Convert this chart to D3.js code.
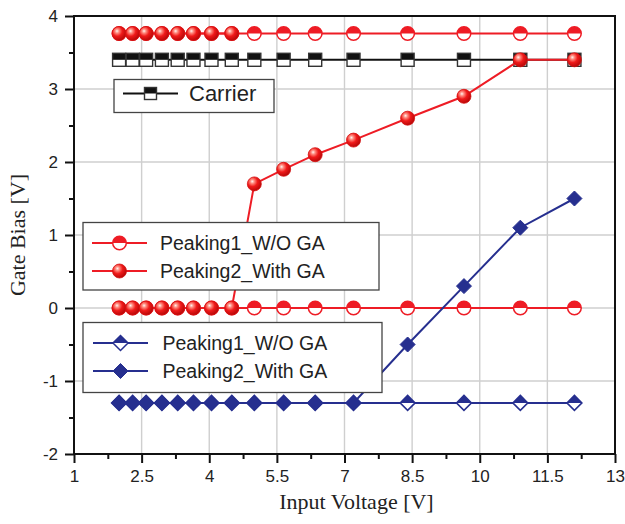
<!DOCTYPE html>
<html>
<head>
<meta charset="utf-8">
<script src="https://cdn.jsdelivr.net/npm/d3@7"></script>
<style>
  html, body { margin: 0; padding: 0; background: #fff; }
  svg { display: block; }
</style>
</head>
<body>
<svg id="chart" width="625" height="524"></svg>
<script>
// Input voltage sweep points [V]
const inputVoltage = [2.0, 2.3, 2.6, 2.95, 3.3, 3.65, 4.05, 4.5, 5.0, 5.65, 6.35, 7.2, 8.4, 9.65, 10.9, 12.1];

// Gate bias [V]
const carrier          = [3.4, 3.4, 3.4, 3.4, 3.4, 3.4, 3.4, 3.4, 3.4, 3.4, 3.4, 3.4, 3.4, 3.4, 3.4, 3.4];
const redUpperWoGA     = [3.76, 3.76, 3.76, 3.76, 3.76, 3.76, 3.76, 3.76, 3.76, 3.76, 3.76, 3.76, 3.76, 3.76, 3.76, 3.76];
const redUpperWithGA   = [3.76, 3.76, 3.76, 3.76, 3.76, 3.76, 3.76, 3.76];
const peaking1WoGARed  = [0, 0, 0, 0, 0, 0, 0, 0, 0, 0, 0, 0, 0, 0, 0, 0];
const peaking2WithGARed = [0, 0, 0, 0, 0, 0, 0, 0, 1.7, 1.9, 2.1, 2.3, 2.6, 2.9, 3.4, 3.4];
const peaking1WoGABlue = [-1.3, -1.3, -1.3, -1.3, -1.3, -1.3, -1.3, -1.3, -1.3, -1.3, -1.3, -1.3, -1.3, -1.3, -1.3, -1.3];
const peaking2WithGABlue = [-1.3, -1.3, -1.3, -1.3, -1.3, -1.3, -1.3, -1.3, -1.3, -1.3, -1.3, -1.3, -0.5, 0.3, 1.1, 1.5];

// Axis ticks
const xTicks = [1, 2.5, 4, 5.5, 7, 8.5, 10, 11.5, 13];
const yTicks = [-2, -1, 0, 1, 2, 3, 4];

// Legend labels
const carrierLabel = "Carrier";
const redLegendLabels = ["Peaking1_W/O GA", "Peaking2_With GA"];
const blueLegendLabels = ["Peaking1_W/O GA", "Peaking2_With GA"];

const RED = "#ee1c25";
const BLUE = "#262f8f";
const BLACK = "#111";
const SANS = "'Liberation Sans', Arial, sans-serif";
const SERIF = "'Liberation Serif', 'Times New Roman', serif";

const svg = d3.select("#chart");
const plotL = 74, plotR = 615, plotT = 16, plotB = 454;

const x = d3.scaleLinear().domain([1, 13]).range([plotL, plotR]);
const y = d3.scaleLinear().domain([-2, 4]).range([plotB, plotT]);

// Sphere shading for the filled circles
const defs = svg.append("defs");
const grad = defs.append("radialGradient")
  .attr("id", "sphere").attr("cx", "38%").attr("cy", "35%").attr("r", "65%")
  .attr("fx", "35%").attr("fy", "32%");
grad.append("stop").attr("offset", "0%").attr("stop-color", "#fff4f0");
grad.append("stop").attr("offset", "22%").attr("stop-color", "#ff8c80");
grad.append("stop").attr("offset", "55%").attr("stop-color", "#f01a1a");
grad.append("stop").attr("offset", "100%").attr("stop-color", "#b80808");

// Grid
const grid = svg.append("g");
grid.selectAll("line.gx").data(xTicks).join("line")
  .attr("x1", d => x(d)).attr("x2", d => x(d))
  .attr("y1", plotT).attr("y2", plotB)
  .attr("stroke", "#cfcfcf").attr("stroke-width", 1.4);
grid.selectAll("line.gy").data(yTicks).join("line")
  .attr("x1", plotL).attr("x2", plotR)
  .attr("y1", d => y(d)).attr("y2", d => y(d))
  .attr("stroke", "#cfcfcf").attr("stroke-width", 1.4);

// Axes
const xMinor = d3.pairs(xTicks).map(([a, b]) => (a + b) / 2);
const yMinor = d3.pairs(yTicks).map(([a, b]) => (a + b) / 2);

const xAxis = svg.append("g").attr("transform", `translate(0,${plotB})`)
  .call(d3.axisBottom(x).tickValues(xTicks).tickSize(9).tickPadding(7).tickFormat(d => String(d)));
const xAxisMinor = svg.append("g").attr("transform", `translate(0,${plotB})`)
  .call(d3.axisBottom(x).tickValues(xMinor).tickSize(5).tickFormat(""));
const yAxis = svg.append("g").attr("transform", `translate(${plotL},0)`)
  .call(d3.axisLeft(y).tickValues(yTicks).tickSize(9).tickPadding(7).tickFormat(d => String(d)));
const yAxisMinor = svg.append("g").attr("transform", `translate(${plotL},0)`)
  .call(d3.axisLeft(y).tickValues(yMinor).tickSize(5).tickFormat(""));

[xAxis, xAxisMinor, yAxis, yAxisMinor].forEach(g => {
  g.select(".domain").remove();
  g.selectAll(".tick line").attr("stroke", "#111").attr("stroke-width", 2);
  g.selectAll(".tick text").attr("fill", "#222").attr("font-family", SANS).attr("font-size", 17);
});

// Frame
svg.append("rect")
  .attr("x", plotL).attr("y", plotT).attr("width", plotR - plotL).attr("height", plotB - plotT)
  .attr("fill", "none").attr("stroke", "#111").attr("stroke-width", 2);

// Axis titles
svg.append("text")
  .attr("x", (plotL + plotR) / 2 + 12).attr("y", 509)
  .attr("text-anchor", "middle").attr("font-family", SERIF).attr("font-size", 22).attr("fill", "#222")
  .text("Input Voltage [V]");
svg.append("text")
  .attr("transform", `translate(25,${(plotT + plotB) / 2}) rotate(-90)`)
  .attr("text-anchor", "middle").attr("font-family", SERIF).attr("font-size", 22).attr("fill", "#222")
  .text("Gate Bias [V]");

// Marker drawing helpers
function halfSquare(g, cx, cy, s) {
  g.append("rect").attr("x", cx - s / 2).attr("y", cy - s / 2).attr("width", s).attr("height", s).attr("fill", "#fff");
  g.append("rect").attr("x", cx - s / 2).attr("y", cy - s / 2).attr("width", s).attr("height", s / 2).attr("fill", BLACK);
  g.append("rect").attr("x", cx - s / 2).attr("y", cy - s / 2).attr("width", s).attr("height", s)
    .attr("fill", "none").attr("stroke", "#333").attr("stroke-width", 1.4);
}
function halfCircle(g, cx, cy, r) {
  g.append("circle").attr("cx", cx).attr("cy", cy).attr("r", r).attr("fill", "#fff");
  g.append("path").attr("d", `M${cx - r},${cy} A${r},${r} 0 0 1 ${cx + r},${cy} Z`).attr("fill", RED);
  g.append("circle").attr("cx", cx).attr("cy", cy).attr("r", r)
    .attr("fill", "none").attr("stroke", RED).attr("stroke-width", 1.5);
}
function sphere(g, cx, cy, r) {
  g.append("circle").attr("cx", cx).attr("cy", cy).attr("r", r).attr("fill", "url(#sphere)")
    .attr("stroke", "#d41010").attr("stroke-width", 0.8);
}
function halfDiamond(g, cx, cy, h) {
  g.append("path").attr("d", `M${cx},${cy - h} L${cx + h},${cy} L${cx},${cy + h} L${cx - h},${cy} Z`).attr("fill", "#fff");
  g.append("path").attr("d", `M${cx},${cy - h} L${cx + h},${cy} L${cx - h},${cy} Z`).attr("fill", BLUE);
  g.append("path").attr("d", `M${cx},${cy - h} L${cx + h},${cy} L${cx},${cy + h} L${cx - h},${cy} Z`)
    .attr("fill", "none").attr("stroke", BLUE).attr("stroke-width", 1.5);
}
function diamond(g, cx, cy, h) {
  g.append("path").attr("d", `M${cx},${cy - h} L${cx + h},${cy} L${cx},${cy + h} L${cx - h},${cy} Z`)
    .attr("fill", BLUE).attr("stroke", BLUE).attr("stroke-width", 1);
}

const line = d3.line().x(d => x(d[0])).y(d => y(d[1]));
function series(values, color, markerFn, size) {
  const pts = values.map((v, i) => [inputVoltage[i], v]);
  const g = svg.append("g");
  g.append("path").attr("d", line(pts)).attr("fill", "none").attr("stroke", color).attr("stroke-width", 2);
  pts.forEach(p => markerFn(g, x(p[0]), y(p[1]), size));
}

series(carrier, BLACK, halfSquare, 13);
series(redUpperWoGA, RED, halfCircle, 6.8);
series(redUpperWithGA, RED, sphere, 7);
series(peaking1WoGARed, RED, halfCircle, 6.8);
series(peaking2WithGARed, RED, sphere, 7);
series(peaking1WoGABlue, BLUE, halfDiamond, 7.5);
series(peaking2WithGABlue, BLUE, diamond, 7.5);

// Legends
function legendBox(x0, y0, w, h) {
  const g = svg.append("g");
  g.append("rect").attr("x", x0).attr("y", y0).attr("width", w).attr("height", h)
    .attr("fill", "#fff").attr("stroke", "#444").attr("stroke-width", 1.3);
  return g;
}
function legendRow(g, x0, x1, cy, color, markerFn, size, label, tx, fs) {
  g.append("line").attr("x1", x0).attr("x2", x1).attr("y1", cy).attr("y2", cy)
    .attr("stroke", color).attr("stroke-width", 2);
  markerFn(g, (x0 + x1) / 2, cy, size);
  g.append("text").attr("x", tx).attr("y", cy).attr("dy", "0.35em")
    .attr("font-family", SANS).attr("font-size", fs).attr("fill", "#222").text(label);
}

const lc = legendBox(114, 79.5, 160, 33);
legendRow(lc, 123, 178, 93.5, BLACK, halfSquare, 12, carrierLabel, 189, 22);

const lr = legendBox(83, 222.5, 296, 67.5);
legendRow(lr, 92, 147, 243, RED, halfCircle, 6.8, redLegendLabels[0], 160, 19.5);
legendRow(lr, 92, 147, 271, RED, sphere, 7, redLegendLabels[1], 160, 19.5);

const lb = legendBox(83, 322.5, 299, 70);
legendRow(lb, 93, 148, 343, BLUE, halfDiamond, 7.5, blueLegendLabels[0], 162.5, 19.5);
legendRow(lb, 93, 148, 371, BLUE, diamond, 7.5, blueLegendLabels[1], 162.5, 19.5);
</script>
</body>
</html>
